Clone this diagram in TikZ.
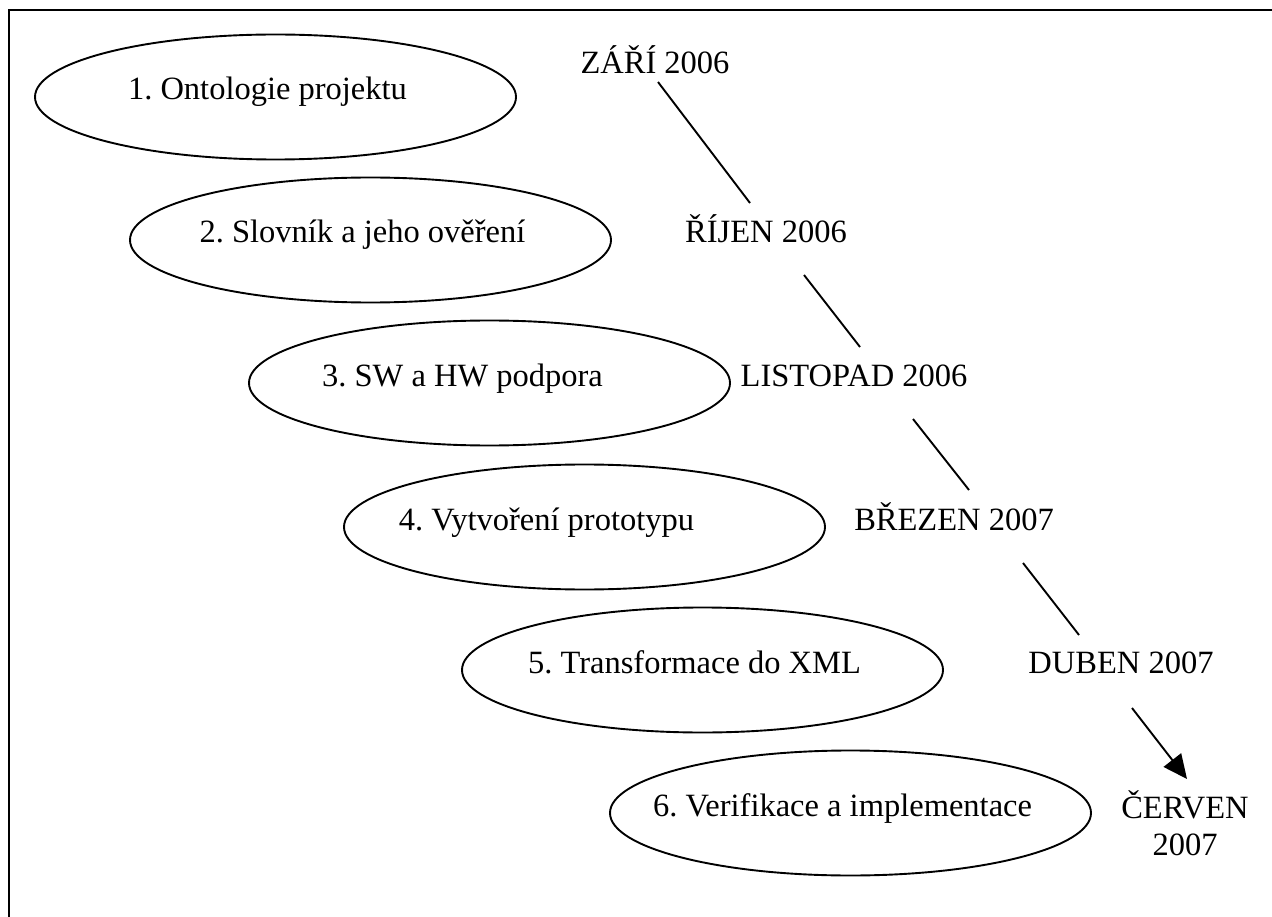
\documentclass[tikz,border=0pt]{standalone}
\usepackage{fontspec}
\setmainfont{Liberation Serif}
\usetikzlibrary{shapes.geometric,arrows.meta}
\frenchspacing
\newcommand{\ztext}[2][0pt]{\raisebox{-3pt}[0pt][0pt]{\makebox[0pt]{\hspace*{-16pt}\hspace*{#1}#2}}}
\begin{document}
\begin{tikzpicture}[x=1pt,y=-1pt,
  phase/.style={ellipse,draw,line width=1.9pt,minimum width=481pt,minimum height=125pt,inner sep=0pt,
     font=\fontsize{32.5}{37}\selectfont},
  datum/.style={anchor=base,inner sep=0pt,font=\fontsize{32.5}{37}\selectfont},
  link/.style={line width=1.9pt}]
\useasboundingbox (0,0) rectangle (1272,917);
\draw[line width=2.4pt] (9,917) -- (9,10) -- (1272,10);
\node[phase] (e1) at (275.5,97) {\ztext{1. Ontologie projektu}};
\node[phase] (e2) at (370.5,240) {\ztext{2. Slovník a jeho ověření}};
\node[phase] (e3) at (489.5,383) {\ztext[-38pt]{3. SW a HW podpora}};
\node[phase] (e4) at (584.5,527) {\ztext[-60pt]{4. Vytvoření prototypu}};
\node[phase] (e5) at (702.5,670) {\ztext{5. Transformace do XML}};
\node[phase] (e6) at (850.5,813) {\ztext{6. Verifikace a implementace}};
\node[datum] (d1) at (655,74) {ZÁŘÍ 2006};
\node[datum] (d2) at (766,243) {ŘÍJEN 2006};
\node[datum] (d3) at (854,386) {LISTOPAD 2006};
\node[datum] (d4) at (954,530) {BŘEZEN 2007};
\node[datum] (d5) at (1121,673) {DUBEN 2007};
\node[inner sep=0pt,align=center,font=\fontsize{32.5}{37}\selectfont] (d6) at (1185,823) {ČERVEN\\2007};
\coordinate (a1) at (658,82);  \coordinate (b1) at (750,203);
\coordinate (a2) at (804,275); \coordinate (b2) at (860,347);
\coordinate (a3) at (913,419); \coordinate (b3) at (969,490);
\coordinate (a4) at (1023,563); \coordinate (b4) at (1079,635);
\coordinate (a5) at (1132,708); \coordinate (b5) at (1187,779);
\draw[link] (a1) -- (b1);
\draw[link] (a2) -- (b2);
\draw[link] (a3) -- (b3);
\draw[link] (a4) -- (b4);
\draw[link,-{Triangle[length=24pt,width=22pt]}] (a5) -- (b5);
\end{tikzpicture}
\end{document}
